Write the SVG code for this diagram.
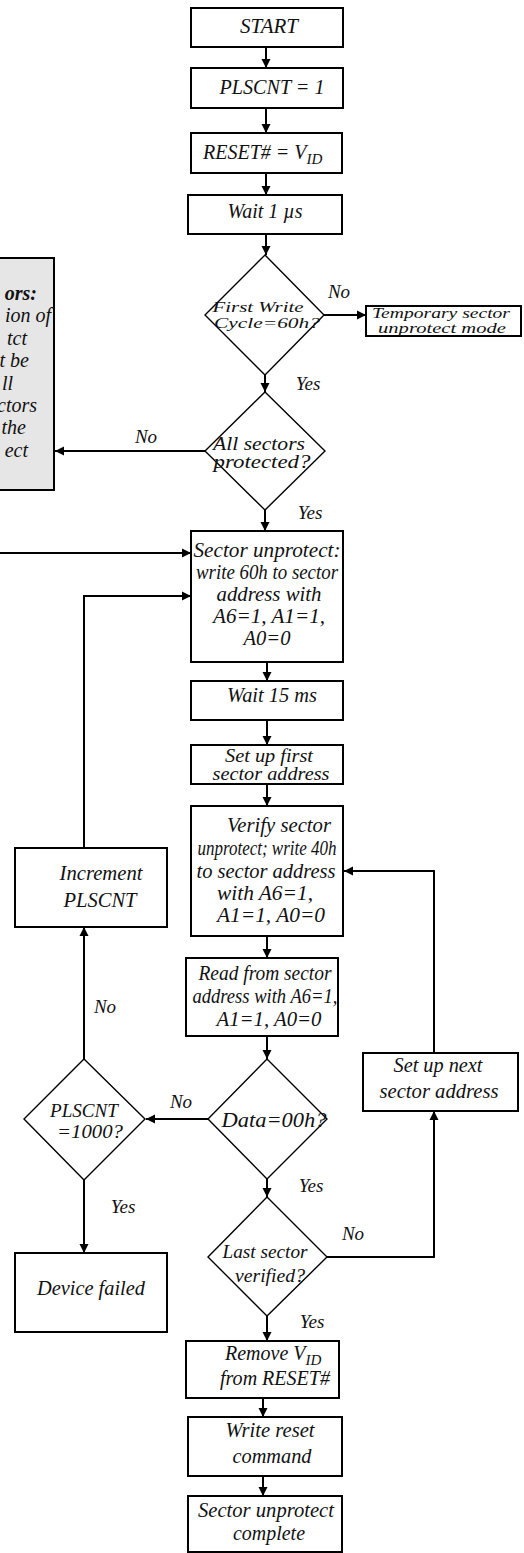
<svg xmlns="http://www.w3.org/2000/svg" width="524" height="1553" viewBox="0 0 524 1553">
<style>
.box{fill:#fff;stroke:#000;stroke-width:2}
.dia{fill:#fff;stroke:#000;stroke-width:1.4}
.note{fill:#e6e6e6;stroke:#000;stroke-width:2}
text{font-family:"Liberation Serif","Times New Roman",serif;font-style:italic;font-size:20px;fill:#111}
.m{text-anchor:middle}
.e{text-anchor:end}
.s14{font-size:14px}
.s15{font-size:15px}
.s16{font-size:16px}
.s17{font-size:17px}
.s18{font-size:18px}
.s19{font-size:19px}
.lbl{font-size:19px;text-anchor:middle}
.c{fill:none;stroke:#000;stroke-width:2;marker-end:url(#ah)}
</style>
<defs>
<marker id="ah" markerUnits="userSpaceOnUse" markerWidth="10" markerHeight="10" refX="9" refY="5" orient="auto">
<path d="M0,0.5 L9,5 L0,9.5 z" fill="#000"/>
</marker>
</defs>
<rect width="524" height="1553" fill="#fff"/>

<g id="n_start"><rect class="box" x="191" y="8" width="152" height="39"/><text class="m" x="269" y="33" textLength="58" lengthAdjust="spacingAndGlyphs">START</text></g>
<g id="n_plscnt1"><rect class="box" x="191" y="68" width="152" height="40"/><text class="m" x="272" y="94" textLength="105" lengthAdjust="spacingAndGlyphs">PLSCNT = 1</text></g>
<g id="n_reset"><rect class="box" x="191" y="133" width="151" height="40"/><text x="203" y="159" font-size="21">RESET# = V<tspan font-size="15" dy="5">ID</tspan></text></g>
<g id="n_wait1"><rect class="box" x="188" y="195" width="154" height="39"/><text class="m" x="265" y="218" textLength="75" lengthAdjust="spacingAndGlyphs">Wait 1 µs</text></g>
<g id="n_first"><polygon class="dia" points="265,255 324,315 265,375 205,315"/><text class="m s15" x="258" y="312" textLength="91" lengthAdjust="spacingAndGlyphs">First Write</text><text class="m s15" x="267" y="328" textLength="106" lengthAdjust="spacingAndGlyphs">Cycle=60h?</text></g>
<g id="n_temp"><rect class="box" x="366" y="306" width="155" height="30"/><text class="m s14" x="441" y="318" textLength="138" lengthAdjust="spacingAndGlyphs">Temporary sector</text><text class="m s14" x="442" y="333" textLength="128" lengthAdjust="spacingAndGlyphs">unprotect mode</text></g>
<g id="n_all"><polygon class="dia" points="265,392 325,451 265,510 205,451"/><text class="m s18" x="259" y="450" textLength="92" lengthAdjust="spacingAndGlyphs">All sectors</text><text class="m s18" x="262" y="468" textLength="97" lengthAdjust="spacingAndGlyphs">protected?</text></g>
<g id="n_note"><rect class="note" x="-2" y="258" width="56" height="232"/>
<text class="e" x="37" y="300" font-weight="bold">ors:</text>
<text class="e" x="51" y="322">ion of</text>
<text class="e" x="27" y="345">tct</text>
<text class="e" x="29" y="367">t be</text>
<text class="e" x="13" y="390">ll</text>
<text class="e" x="37" y="412">ctors</text>
<text class="e" x="26" y="434">the</text>
<text class="e" x="28" y="457">ect</text>
</g>
<g id="n_unprot"><rect class="box" x="191" y="531" width="152" height="131"/>
<text class="m" x="267" y="557" textLength="147" lengthAdjust="spacingAndGlyphs">Sector unprotect:</text>
<text class="m" x="267" y="579" textLength="142" lengthAdjust="spacingAndGlyphs">write 60h to sector</text>
<text class="m" x="269" y="601" textLength="105" lengthAdjust="spacingAndGlyphs">address with</text>
<text class="m" x="269" y="623" textLength="112" lengthAdjust="spacingAndGlyphs">A6=1, A1=1,</text>
<text class="m" x="267" y="645" textLength="47" lengthAdjust="spacingAndGlyphs">A0=0</text></g>
<g id="n_wait15"><rect class="box" x="191" y="681" width="152" height="39"/><text class="m" x="272" y="702" textLength="90" lengthAdjust="spacingAndGlyphs">Wait 15 ms</text></g>
<g id="n_setfirst"><rect class="box" x="191" y="745" width="152" height="39"/><text class="m s18" x="269" y="762" textLength="88" lengthAdjust="spacingAndGlyphs">Set up first</text><text class="m s18" x="271" y="780" textLength="117" lengthAdjust="spacingAndGlyphs">sector address</text></g>
<g id="n_verify"><rect class="box" x="191" y="806" width="152" height="130"/>
<text class="m" x="279" y="832" textLength="104" lengthAdjust="spacingAndGlyphs">Verify sector</text>
<text class="m" x="267" y="855" textLength="139" lengthAdjust="spacingAndGlyphs">unprotect; write 40h</text>
<text class="m" x="266" y="878" textLength="139" lengthAdjust="spacingAndGlyphs">to sector address</text>
<text class="m" x="265" y="900" textLength="96" lengthAdjust="spacingAndGlyphs">with A6=1,</text>
<text class="m" x="271" y="922" textLength="108" lengthAdjust="spacingAndGlyphs">A1=1, A0=0</text></g>
<g id="n_incr"><rect class="box" x="15" y="848" width="152" height="79"/><text class="m" x="101" y="880" textLength="83" lengthAdjust="spacingAndGlyphs">Increment</text><text class="m" x="100" y="907" textLength="73" lengthAdjust="spacingAndGlyphs">PLSCNT</text></g>
<g id="n_read"><rect class="box" x="186" y="958" width="152" height="78"/>
<text class="m" x="265" y="980" textLength="133" lengthAdjust="spacingAndGlyphs">Read from sector</text>
<text class="m" x="265" y="1003" textLength="145" lengthAdjust="spacingAndGlyphs">address with A6=1,</text>
<text class="m" x="269" y="1026" textLength="105" lengthAdjust="spacingAndGlyphs">A1=1, A0=0</text></g>
<g id="n_data"><polygon class="dia" points="267,1059 327,1119 267,1179 208,1119"/><text class="m" x="274" y="1127" textLength="105" lengthAdjust="spacingAndGlyphs">Data=00h?</text></g>
<g id="n_plscnt"><polygon class="dia" points="84,1059 145,1119 84,1180 24,1119"/><text class="m s18" x="84" y="1117" textLength="68" lengthAdjust="spacingAndGlyphs">PLSCNT</text><text class="m s18" x="90" y="1138" textLength="66" lengthAdjust="spacingAndGlyphs">=1000?</text></g>
<g id="n_next"><rect class="box" x="363" y="1053" width="155" height="58"/><text class="m" x="438" y="1072" textLength="89" lengthAdjust="spacingAndGlyphs">Set up next</text><text class="m" x="439" y="1098" textLength="119" lengthAdjust="spacingAndGlyphs">sector address</text></g>
<g id="n_last"><polygon class="dia" points="267,1197 327,1257 267,1316 208,1257"/><text class="m s19" x="265" y="1258" textLength="85" lengthAdjust="spacingAndGlyphs">Last sector</text><text class="m s19" x="270" y="1282" textLength="70" lengthAdjust="spacingAndGlyphs">verified?</text></g>
<g id="n_failed"><rect class="box" x="15" y="1253" width="152" height="79"/><text class="m" x="91" y="1295" textLength="108" lengthAdjust="spacingAndGlyphs">Device failed</text></g>
<g id="n_remove"><rect class="box" x="186" y="1341" width="153" height="57"/><text x="225" y="1360">Remove V<tspan font-size="15" dy="5">ID</tspan></text><text class="m" x="275" y="1385" textLength="110" lengthAdjust="spacingAndGlyphs">from RESET#</text></g>
<g id="n_writereset"><rect class="box" x="188" y="1417" width="154" height="59"/><text class="m" x="270" y="1437" textLength="89" lengthAdjust="spacingAndGlyphs">Write reset</text><text class="m" x="272" y="1463" textLength="79" lengthAdjust="spacingAndGlyphs">command</text></g>
<g id="n_complete"><rect class="box" x="188" y="1496" width="154" height="56"/><text class="m" x="266" y="1517" textLength="136" lengthAdjust="spacingAndGlyphs">Sector unprotect</text><text class="m" x="269" y="1540" textLength="72" lengthAdjust="spacingAndGlyphs">complete</text></g>

<g id="connectors">
<path class="c" d="M266,47 V68"/>
<path class="c" d="M266,108 V133"/>
<path class="c" d="M266,173 V195"/>
<path class="c" d="M266,234 V255"/>
<path class="c" d="M324,315 H366"/>
<path class="c" d="M265,375 V392"/>
<path class="c" d="M205,451 H55"/>
<path class="c" d="M265,510 V531"/>
<path class="c" d="M0,553 H191"/>
<path class="c" d="M84,848 V596 H191"/>
<path class="c" d="M267,662 V681"/>
<path class="c" d="M267,720 V745"/>
<path class="c" d="M267,784 V806"/>
<path class="c" d="M267,936 V958"/>
<path class="c" d="M267,1036 V1059"/>
<path class="c" d="M208,1119 H146"/>
<path class="c" d="M84,1059 V927"/>
<path class="c" d="M267,1179 V1197"/>
<path class="c" d="M84,1180 V1253"/>
<path class="c" d="M327,1257 H434 V1111"/>
<path class="c" d="M434,1053 V871 H344"/>
<path class="c" d="M267,1316 V1341"/>
<path class="c" d="M263,1398 V1417"/>
<path class="c" d="M263,1476 V1496"/>
</g>
<g id="labels">
<text class="lbl" x="339" y="298">No</text>
<text class="lbl" x="308" y="390">Yes</text>
<text class="lbl" x="146" y="443">No</text>
<text class="lbl" x="310" y="519">Yes</text>
<text class="lbl" x="105" y="1013">No</text>
<text class="lbl" x="181" y="1108">No</text>
<text class="lbl" x="311" y="1192">Yes</text>
<text class="lbl" x="123" y="1213">Yes</text>
<text class="lbl" x="353" y="1240">No</text>
<text class="lbl" x="312" y="1328">Yes</text>
</g>
</svg>
